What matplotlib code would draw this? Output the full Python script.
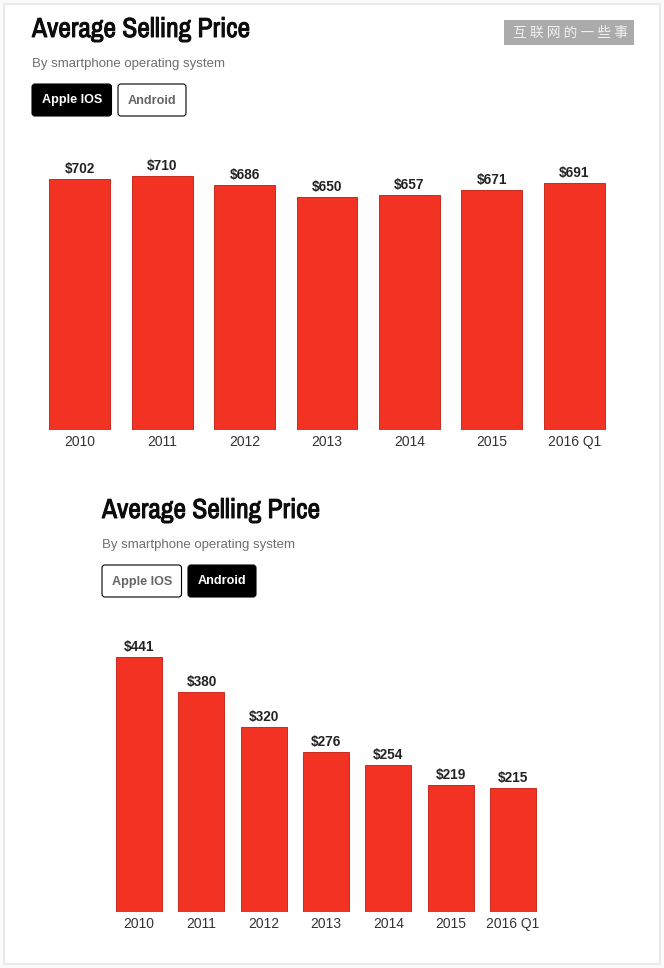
import matplotlib
matplotlib.use("Agg")
import matplotlib.pyplot as plt
import matplotlib.patheffects as pe
from matplotlib.patches import FancyBboxPatch, Rectangle
from matplotlib import font_manager as fm

W, H = 664, 968

# data
anos = ["2010", "2011", "2012", "2013", "2014", "2015", "2016 Q1"]
precos_ios = [702, 710, 686, 650, 657, 671, 691]
precos_android = [441, 380, 320, 276, 254, 219, 215]

VERMELHO = "#F23323"
BORDA = "#C92B1D"

# fonte estreita para o titulo, se existir
nomes = {f.name for f in fm.fontManager.ttflist}
fonte_titulo = "Archivo Narrow" if "Archivo Narrow" in nomes else "Liberation Sans"
plt.rcParams["font.family"] = "Liberation Sans"

fig = plt.figure(figsize=(W / 100, H / 100), dpi=100, facecolor="#FBFBFB")

# fundo em pixels, para o cartao e os textos
bg = fig.add_axes([0, 0, 1, 1])
bg.set_xlim(0, W)
bg.set_ylim(H, 0)
bg.axis("off")
bg.add_patch(Rectangle((3.5, 3.5), 656.5, 960, fc="white", ec="#E6E6E6", lw=1.2))


def botao(x0, x1, y0, y1, texto, ativo):
    bg.add_patch(FancyBboxPatch((x0 + 3, y0 + 3), x1 - x0 - 6, y1 - y0 - 6,
                                boxstyle="round,pad=3,rounding_size=3",
                                fc="black" if ativo else "white", ec="black", lw=0.8))
    bg.text((x0 + x1) / 2, (y0 + y1) / 2 + 0.5, texto, ha="center", va="center",
            fontsize=9.1, fontweight="bold", color="white" if ativo else "#666666")


def cabecalho(x, y, ativo):
    # negrito simulado com contorno, a fonte estreita so tem peso normal aqui
    bg.text(x, y, "Average Selling Price", fontsize=19.8, fontweight="bold",
            family=fonte_titulo, color="#0C0C0C", va="baseline",
            path_effects=[pe.withStroke(linewidth=0.7, foreground="#0C0C0C")])
    bg.text(x, y + 30, "By smartphone operating system", fontsize=9.5, color="#6E6E6E",
            va="baseline")
    botao(x, x + 79.5, y + 47, y + 79, "Apple IOS", ativo == "ios")
    botao(x + 86, x + 154, y + 47, y + 79, "Android", ativo == "android")


def grafico(x0, x1, base, topo, valores, largura):
    # eixo definido em pixels da figura
    ax = fig.add_axes([x0 / W, 1 - base / H, (x1 - x0) / W, (base - topo) / H])
    ax.patch.set_alpha(0)
    ax.bar(anos, valores, width=largura, color=VERMELHO, edgecolor=BORDA, linewidth=0.7)
    ax.set_xlim(-0.5, len(anos) - 0.5)
    ax.set_ylim(0, max(valores))
    ax.set_yticks([])
    for s in ax.spines.values():
        s.set_visible(False)
    ax.tick_params(axis="x", length=0, pad=3.6, labelsize=10, labelcolor="#333333")
    for i, v in enumerate(valores):
        ax.annotate(f"${v}", (i, v), xytext=(0, 2.2), textcoords="offset points", ha="center",
                    va="bottom", fontsize=9.8, fontweight="bold", color="#222222", clip_on=False)


cabecalho(32, 37, "ios")
cabecalho(102, 518, "android")

grafico(38.5, 615.5, 430, 176, precos_ios, 0.74)
grafico(108, 544, 912, 657, precos_android, 0.74)

# marca d'agua
bg.add_patch(Rectangle((504, 20), 130, 25, fc="#ABABAB", ec="none"))
bg.text(570.5, 33, "互 联 网 的 一 些 事", ha="center", va="center", fontsize=9.9,
        family="Noto Sans CJK SC", color="#F0F0F0")

fig.savefig("out.png", dpi=100, facecolor=fig.get_facecolor())
